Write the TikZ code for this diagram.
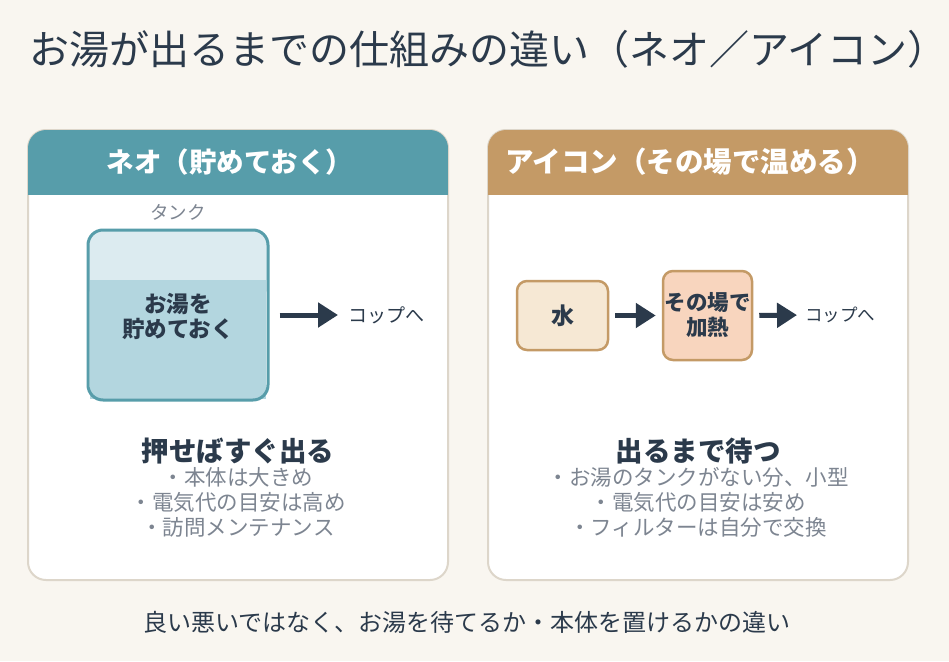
\documentclass[tikz,border=0pt]{standalone}
\usepackage{fontspec}
\setmainfont{Noto Sans CJK JP}
\usetikzlibrary{arrows.meta}
\definecolor{bgc}{HTML}{F9F6F0}
\definecolor{ink}{HTML}{2B3A4B}
\definecolor{teal}{HTML}{579DAA}
\definecolor{tan}{HTML}{C49A66}
\definecolor{cardline}{HTML}{DDD6CA}
\definecolor{greytx}{HTML}{7D8591}
\definecolor{tanktop}{HTML}{DCEBF0}
\definecolor{tankbot}{HTML}{B3D6DF}
\definecolor{waterc}{HTML}{F6E8D4}
\definecolor{heatc}{HTML}{F8D5BE}
\tikzset{
  card/.style={draw=cardline, line width=2pt, fill=white, rounded corners=18pt,
    minimum width=420pt, minimum height=450pt, inner sep=0pt},
  headtext/.style={text=white, font=\fontsize{27.5}{32}\selectfont\bfseries, inner sep=0pt},
  plain/.style={inner sep=0pt, text=ink},
  bullets/.style={inner sep=0pt, text=greytx, align=center, font=\fontsize{21.5}{25}\selectfont},
  big/.style={inner sep=0pt, text=ink, font=\fontsize{27.5}{32}\selectfont\bfseries},
  flow/.style={draw=ink, line width=5pt, -{Triangle[length=20pt,width=24pt]}},
  stagebox/.style={draw=tan, line width=2.5pt, rounded corners=10pt, inner sep=0pt,
    text=ink, align=center},
}
\begin{document}
\begin{tikzpicture}[x=1pt,y=-1pt]
\fill[bgc] (0,0) rectangle (949,661);
\useasboundingbox (0,0) rectangle (949,661);

% title
\node[plain, anchor=west, font=\fontsize{40}{46}\selectfont] (title) at (29,49)
  {お湯が出るまでの仕組みの違い（ネオ／アイコン）};

% ---------- left card ----------
\node[card] (lcard) at (238,355) {};
\begin{scope}
  \clip[rounded corners=18pt] (28,130) rectangle (448,579);
  \fill[teal] (27,129) rectangle (449,195);
\end{scope}
\node[headtext] (lhead) at (230,162) {ネオ（貯めておく）};

\node[inner sep=0pt, text=greytx, font=\fontsize{18.5}{22}\selectfont] (tanklbl) at (178,212) {タンク};

\fill[tanktop, rounded corners=15pt] (88,230) rectangle (268,300);
\fill[tankbot] (90,280) rectangle (266,399);
\node[draw=teal, line width=3pt, rounded corners=15pt, minimum width=180pt,
  minimum height=170pt, inner sep=0pt] (tank) at (178,315) {};
\node[plain, align=center, font=\fontsize{22.5}{25}\selectfont\bfseries] (tanktext) at (178,316)
  {お湯を\\貯めておく};

\node[plain, anchor=west, font=\fontsize{19}{22}\selectfont] (lcup) at (348,315) {コップへ};
\draw[flow, shorten <=10pt, shorten >=10pt] (tank.east) -- (lcup.west);

\node[big] (lbig) at (238,451) {押せばすぐ出る};
\node[bullets] (llist) at (238,502) {・本体は大きめ\\・電気代の目安は高め\\・訪問メンテナンス};

% ---------- right card ----------
\node[card] (rcard) at (698,355) {};
\begin{scope}
  \clip[rounded corners=18pt] (488,130) rectangle (908,579);
  \fill[tan] (487,129) rectangle (909,195);
\end{scope}
\node[headtext, font=\fontsize{28.5}{32}\selectfont\bfseries] (rhead) at (690,162) {アイコン（その場で温める）};

\node[stagebox, fill=waterc, minimum width=91pt, minimum height=69pt,
  font=\fontsize{23}{26}\selectfont\bfseries] (water) at (562.5,315.5) {水};
\node[stagebox, fill=heatc, minimum width=89pt, minimum height=89pt,
  font=\fontsize{21.5}{25}\selectfont\bfseries] (heat) at (707.5,315.5) {その場で\\加熱};
\node[plain, anchor=west, font=\fontsize{17.5}{21}\selectfont] (rcup) at (805,315) {コップへ};
\draw[flow, shorten <=6pt, shorten >=6pt] (water.east) -- (heat.west);
\draw[flow, shorten <=6pt, shorten >=8pt] (heat.east) -- (rcup.west);

\node[big] (rbig) at (698,451) {出るまで待つ};
\node[bullets] (rlist) at (698,502) {・お湯のタンクがない分、小型\\・電気代の目安は安め\\・フィルターは自分で交換};

% bottom
\node[plain, font=\fontsize{24}{28}\selectfont] (foot) at (467,622)
  {良い悪いではなく、お湯を待てるか・本体を置けるかの違い};
\end{tikzpicture}
\end{document}
